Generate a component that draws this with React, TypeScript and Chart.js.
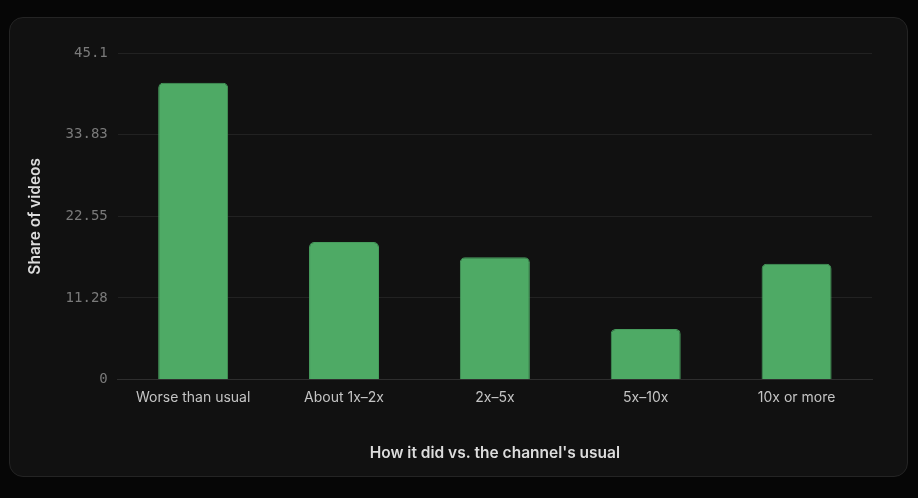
import React, { useEffect, useRef } from "react";
import { Chart, registerables } from "chart.js";

Chart.register(...registerables);

const categories = ["Worse than usual", "About 1x–2x", "2x–5x", "5x–10x", "10x or more"];
const shareValues = [41.0, 19.0, 16.9, 7.0, 16.0];
const yTicks = [0, 11.28, 22.55, 33.83, 45.1];

const App: React.FC = () => {
  const chartRef = useRef<HTMLCanvasElement | null>(null);

  useEffect(() => {
    const canvas = chartRef.current;
    if (!canvas) return;
    const ctx = canvas.getContext("2d");
    if (!ctx) return;

    const yMax = yTicks[yTicks.length - 1];

    const chart = new Chart(ctx, {
      type: "bar",
      data: {
        labels: categories,
        datasets: [
          {
            label: "Share of videos",
            data: shareValues,
            backgroundColor: "#4eaa65",
            borderColor: "#479c5d",
            borderWidth: 1,
            borderRadius: 5,
            borderSkipped: "bottom",
            barPercentage: 0.58,
            categoryPercentage: 0.8,
          },
        ],
      },
      options: {
        responsive: true,
        maintainAspectRatio: false,
        animation: false,
        layout: { padding: { left: 12, right: 35, top: 35, bottom: 12 } },
        plugins: {
          legend: { display: false },
          tooltip: { enabled: false },
        },
        scales: {
          x: {
            grid: { display: false, drawTicks: false },
            border: { display: true, color: "#2e2e2e", width: 1 },
            ticks: {
              color: "#c4c4c4",
              padding: 10,
              font: { family: "Inter", size: 14 },
            },
            title: {
              display: true,
              text: "How it did vs. the channel's usual",
              color: "#dcdcdc",
              font: { family: "Inter", size: 15.5, weight: 600 },
              padding: { top: 28, bottom: 1 },
            },
          },
          y: {
            min: 0,
            max: yMax,
            afterBuildTicks: (axis) => {
              axis.ticks = yTicks.map((v) => ({ value: v }));
            },
            grid: { color: "#222222", drawTicks: false },
            border: { display: false },
            ticks: {
              color: "#7a7a7a",
              padding: 10,
              font: { family: "DejaVu Sans Mono", size: 14 },
              callback: (v) => String(v),
            },
            title: {
              display: true,
              text: "Share of videos",
              color: "#dcdcdc",
              font: { family: "Inter", size: 15.5, weight: 600 },
              padding: { top: 4, bottom: 11 },
            },
          },
        },
      },
    });

    return () => {
      chart.destroy();
    };
  }, []);

  return (
    <div
      style={{
        position: "fixed",
        inset: 0,
        background: "#060606",
      }}
    >
      <div
        style={{
          position: "absolute",
          left: 9,
          top: 17,
          width: 899,
          height: 460,
          boxSizing: "border-box",
          background: "#111111",
          border: "1px solid #242424",
          borderRadius: 14,
          overflow: "hidden",
        }}
      >
        <div style={{ position: "relative", width: "100%", height: "100%" }}>
          <canvas ref={chartRef} />
        </div>
      </div>
    </div>
  );
};

export default App;
